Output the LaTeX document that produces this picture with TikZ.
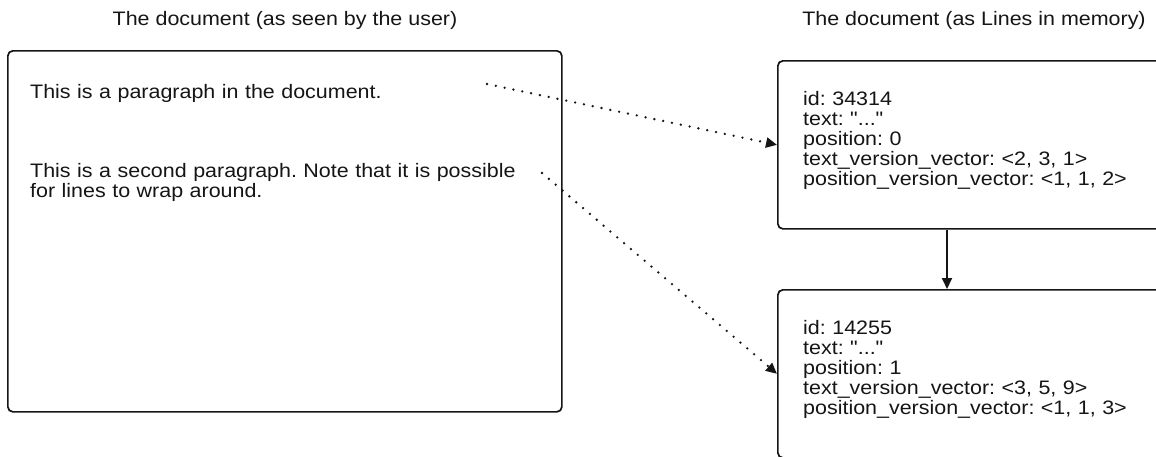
\documentclass[tikz,border=0pt]{standalone}
\usepackage{fontspec}
\setmainfont{Liberation Sans}[FakeStretch=1.1, Ligatures=TeXOff]
\usetikzlibrary{arrows.meta}
\definecolor{ink}{HTML}{151515}
\begin{document}
\frenchspacing
\begin{tikzpicture}[x=1pt,y=-1pt,
  font=\fontsize{19.5}{20}\selectfont,
  panel/.style={draw=ink, line width=1.7pt, rounded corners=5pt, fill=none},
  txt/.style={text=ink, inner sep=0pt, anchor=base west, align=left, text width=520pt},
  title/.style={text=ink, inner sep=0pt, anchor=base},
  dotarrow/.style={draw=ink, line width=2.6pt, dash pattern=on 0pt off 9pt, line cap=round,
    -{Triangle[length=11pt,width=10pt]}},
  solidarrow/.style={draw=ink, line width=1.7pt, -{Triangle[length=11pt,width=10pt]}}]
\useasboundingbox (0,0) rectangle (1156,456);
\fill[white] (0,0) rectangle (1156,456);
\clip (0,0) rectangle (1156,456);

% titles
\node[title] (ttl1) at (285,25) {The document (as seen by the user)};
\node[title] (ttl2) at (974,25) {The document (as Lines in memory)};

% left panel
\node[panel, minimum width=554pt, minimum height=361pt, anchor=north west, inner sep=0pt] (doc) at (7,50) {};
\node[txt] (p1) at (30,98) {This is a paragraph in the document.};
\node[txt] (p2) at (30,177) {This is a second paragraph. Note that it is possible\\for lines to wrap around.};

% right panels
\node[panel, minimum width=420pt, minimum height=168pt, anchor=north west, inner sep=0pt] (l1) at (777,60) {};
\node[panel, minimum width=420pt, minimum height=168pt, anchor=north west, inner sep=0pt] (l2) at (777,289) {};
\node[txt] (t1) at (803,105) {id: 34314\\text: "..."\\position: 0\\text\_version\_vector: <2, 3, 1>\\position\_version\_vector: <1, 1, 2>};
\node[txt] (t2) at (803,334) {id: 14255\\text: "..."\\position: 1\\text\_version\_vector: <3, 5, 9>\\position\_version\_vector: <1, 1, 3>};

% connectors
\coordinate (s1) at (487,84);
\coordinate (s2) at (542,173);
\draw[dotarrow] (s1) -- (l1.west);
\draw[dotarrow] (s2) -- (l2.west);
\draw[solidarrow] ([xshift=170pt]l1.south west) -- ([xshift=170pt]l2.north west);
\end{tikzpicture}
\end{document}
